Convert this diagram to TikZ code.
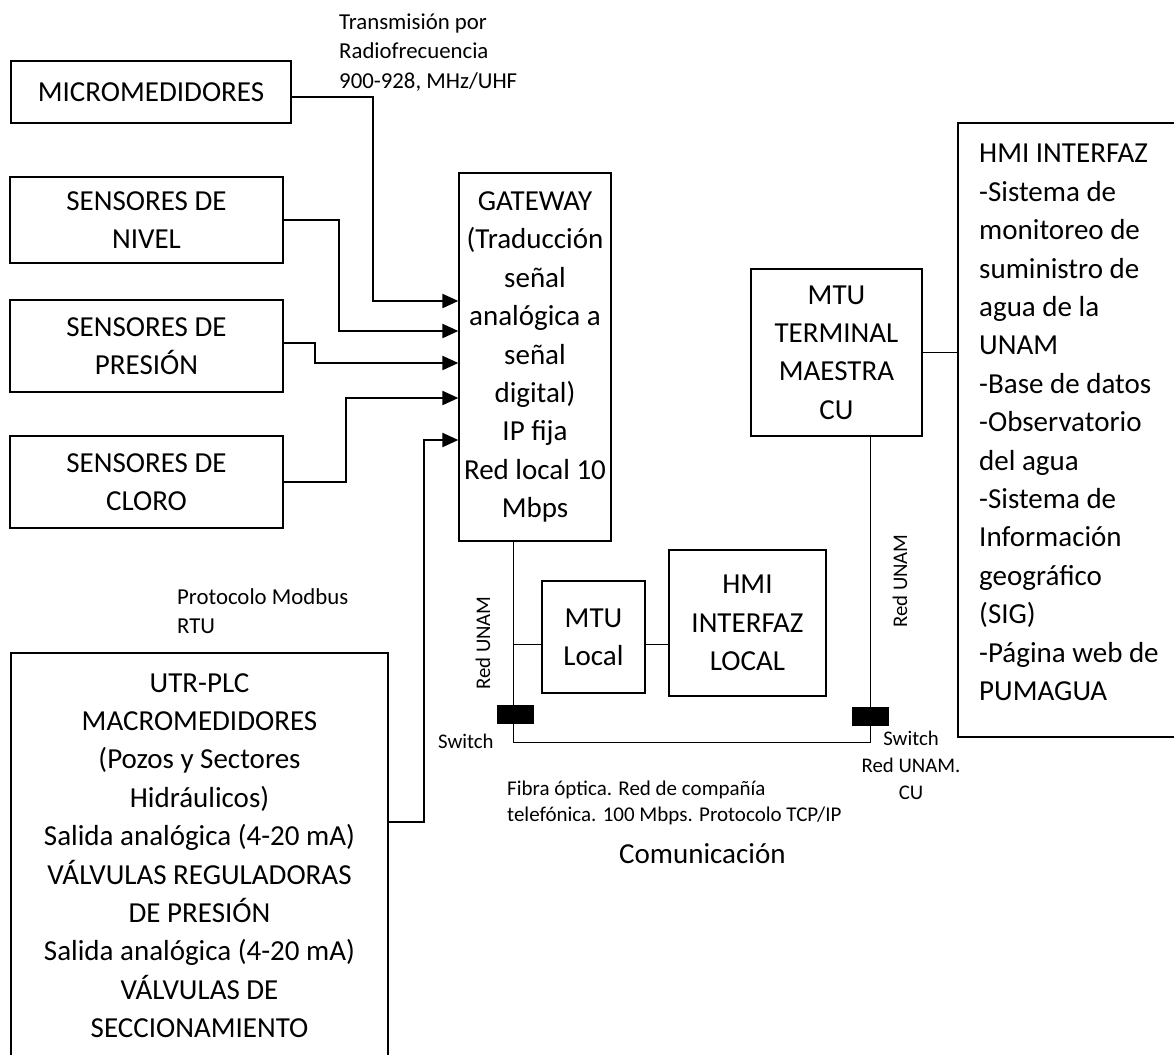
\documentclass[tikz,border=0pt]{standalone}
\usepackage{fontspec}
\setmainfont{Carlito}
\usetikzlibrary{arrows.meta}
\newcommand\fbig{\fontsize{29}{38.4}\selectfont}
\newcommand\fsmall{\fontsize{22.8}{29.5}\selectfont}
\newcommand\ftiny{\fontsize{20.8}{27}\selectfont}
\begin{document}
\begin{tikzpicture}[x=1pt,y=-1pt,
  box/.style={draw, line width=1.3pt, inner sep=0pt, align=center, font=\fbig},
  conn/.style={line width=2.2pt, -{Triangle[length=16pt,width=14pt]}},
  net/.style={line width=0.9pt},
  switchbox/.style={fill=black, minimum width=37pt, minimum height=19pt, inner sep=0pt},
  lbl/.style={inner sep=0pt}]
\useasboundingbox (0,0) rectangle (1174,1054);

% boxes
\node[box, minimum width=280pt, minimum height=62pt] (micro) at (151,92) {MICROMEDIDORES};
\node[box, minimum width=273pt, minimum height=86pt] (nivel) at (146.5,220) {SENSORES DE\\NIVEL};
\node[box, minimum width=273pt, minimum height=92pt] (pres) at (146.5,346) {SENSORES DE\\PRESIÓN};
\node[box, minimum width=273pt, minimum height=92pt] (cloro) at (146.5,482) {SENSORES DE\\CLORO};
\node[box, minimum width=152pt, minimum height=368pt] (gw) at (535,357) {GATEWAY\\(Traducción\\señal\\analógica a\\señal\\digital)\\IP fija\\Red local 10\\Mbps};
\node[box, minimum width=377pt, minimum height=405pt] (utr) at (199.5,855.5) {UTR-PLC\\MACROMEDIDORES\\(Pozos y Sectores\\Hidráulicos)\\Salida analógica (4-20 mA)\\VÁLVULAS REGULADORAS\\DE PRESIÓN\\Salida analógica (4-20 mA)\\VÁLVULAS DE\\SECCIONAMIENTO};
\node[box, minimum width=103pt, minimum height=112pt] (mtul) at (593.5,637) {MTU\\Local};
\node[box, minimum width=157pt, minimum height=146pt] (hmil) at (747.5,623) {HMI\\INTERFAZ\\LOCAL};
\node[box, minimum width=171pt, minimum height=167pt] (mtucu) at (836.5,352.5) {MTU\\TERMINAL\\MAESTRA\\CU};
\node[box, minimum width=227pt, minimum height=614pt] (hmi) at (1071.5,430) {};
\node[lbl, anchor=north west, align=left, font=\fbig] (hmitxt) at (979,144) {HMI INTERFAZ\\-Sistema de\\monitoreo de\\suministro de\\agua de la\\UNAM\\-Base de datos\\-Observatorio\\del agua\\-Sistema de\\Información\\geográfico\\(SIG)\\-Página web de\\PUMAGUA};

% labels
\node[lbl, anchor=north west, align=left, font=\fsmall] (rf) at (339,13.5) {Transmisión por\\Radiofrecuencia\\900-928, MHz/UHF};
\node[lbl, anchor=north west, align=left, font=\fsmall] (modbus) at (177,588) {Protocolo Modbus\\RTU};
\node[lbl, anchor=north west, align=left, font={\fontsize{21}{26}\selectfont}] (fibra) at (507,781) {Fibra óptica. Red de compañía\\telefónica. 100 Mbps. Protocolo TCP/IP};
\node[lbl, anchor=base west, font=\fbig] (com) at (619,863) {Comunicación};
\node[lbl, anchor=base west, font=\ftiny] (swl) at (438,748) {Switch};
\node[lbl, anchor=north, align=center, font=\ftiny] (swr) at (911,731) {Switch\\Red UNAM.\\CU};
\node[lbl, rotate=90, font=\ftiny] (redl) at (483,643) {Red UNAM};
\node[lbl, rotate=90, font=\ftiny] (redr) at (900,581) {Red UNAM};

% connectors to gateway
\draw[conn] ([yshift=-5pt]micro.east) -| (373,301) -- ([yshift=56pt]gw.west);
\draw[conn] (nivel.east) -| (339,331) -- ([yshift=26pt]gw.west);
\draw[conn] ([yshift=3pt]pres.east) -| (315,363) -- ([yshift=-6pt]gw.west);
\draw[conn] (cloro.east) -| (346,398) -- ([yshift=-41pt]gw.west);
\draw[conn] ([yshift=33.5pt]utr.east) -| (424,440) -- ([yshift=-83pt]gw.west);

% network
\coordinate (bl) at (513,742);
\coordinate (br) at (870,742);
\draw[net] (gw.south -| bl) -- (bl) -- (br) -- (mtucu.south -| br);
\coordinate (ml) at ([yshift=-7pt]mtul.west);
\coordinate (mr) at ([yshift=-7pt]mtul.east);
\draw[net] (ml -| bl) -- (ml);
\draw[net] (mr) -- (mr -| hmil.west);
\draw[net] (mtucu.east) -- (mtucu.east -| hmi.west);
\node[switchbox] (sw1) at (515,714) {};
\node[switchbox] (sw2) at (870,716) {};
\end{tikzpicture}
\end{document}
